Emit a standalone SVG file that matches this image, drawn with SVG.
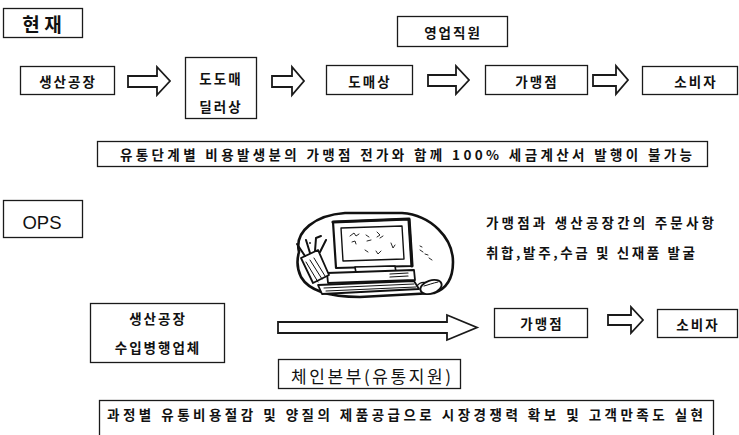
<svg xmlns="http://www.w3.org/2000/svg" width="739" height="435" viewBox="0 0 739 435">
  <style>
    .box { fill: #ffffff; stroke: #1a1a1a; stroke-width: 1.3; }
    .lbl { font-family: "Noto Sans CJK KR", "Noto Sans", sans-serif; font-size: 13.5px; font-weight: bold; fill: #111; text-anchor: middle; dominant-baseline: central; letter-spacing: 2px; }
    .big { font-family: "Noto Sans CJK KR", "Noto Sans", sans-serif; font-size: 17px; font-weight: normal; fill: #111; text-anchor: middle; dominant-baseline: central; }
    .note { font-family: "Noto Sans CJK KR", "Noto Sans", sans-serif; font-size: 13.5px; font-weight: bold; fill: #111; dominant-baseline: central; }
    .arrow { fill: #ffffff; stroke: #1a1a1a; stroke-width: 1.8; stroke-linejoin: miter; }
    .ink { fill: none; stroke: #111; stroke-linecap: round; stroke-linejoin: round; }
    .solid { fill: #ffffff; stroke: #111; stroke-linejoin: round; }
  </style>

  <!-- section heading: current flow -->
  <g id="heading-current">
    <rect class="box" x="3.5" y="8.5" width="79" height="29"/>
    <text class="big" x="42" y="23" style="font-size:19px;font-weight:bold">현 재</text>
  </g>

  <!-- current distribution chain -->
  <g id="factory">
    <rect class="box" x="20.5" y="66.5" width="94" height="28"/>
    <text class="lbl" x="68" y="81">생산공장</text>
  </g>
  <g id="dealer">
    <rect class="box" x="185.5" y="57.5" width="71" height="61"/>
    <text class="lbl" x="221" y="78">도도매</text>
    <text class="lbl" x="221" y="106">딜러상</text>
  </g>
  <g id="wholesaler">
    <rect class="box" x="326.5" y="65.5" width="86" height="29"/>
    <text class="lbl" x="370" y="81">도매상</text>
  </g>
  <g id="sales-staff">
    <rect class="box" x="397.5" y="16.5" width="110" height="30"/>
    <text class="lbl" x="453" y="32">영업직원</text>
  </g>
  <g id="franchise">
    <rect class="box" x="485.5" y="65.5" width="102" height="29"/>
    <text class="lbl" x="537" y="81">가맹점</text>
  </g>
  <g id="consumer">
    <rect class="box" x="642.5" y="66.5" width="95" height="28"/>
    <text class="lbl" x="696" y="81">소비자</text>
  </g>
  <g id="current-note">
    <rect class="box" x="97.5" y="141.5" width="610" height="25"/>
    <text class="note" x="120" y="154" textLength="572" lengthAdjust="spacing">유통단계별 비용발생분의 가맹점 전가와 함께 100% 세금계산서 발행이 불가능</text>
  </g>

  <!-- section heading: OPS flow -->
  <g id="heading-ops">
    <rect class="box" x="3.5" y="200.5" width="79" height="37"/>
    <text x="42" y="222" text-anchor="middle" dominant-baseline="central" font-family="Liberation Sans, Arial, sans-serif" font-size="18.5" fill="#111">OPS</text>
  </g>

  <!-- computer clip art -->
  <g id="computer">
    <path class="solid" stroke-width="2.6" d="M299,252 C294,231 316,215 345,213 L402,213 C431,215 453,238 453,262 C453,279 446,289 434,293 L360,297 C331,297 309,291 301,277 C296,267 297,259 299,252 Z"/>
    <circle cx="310" cy="243" r="0.9" fill="#111"/>
    <path class="ink" stroke-width="0.9" d="M420,250 l3,2 m2,2 l3,1 m1,3 l3,2 m-12,-14 l2,1"/>
    <!-- monitor -->
    <path class="solid" stroke-width="2.2" d="M333,222 L409,219 L412,266 L336,268 Z"/>
    <path class="ink" stroke-width="3.2" d="M333,222 L409,219 L412,266"/>
    <path class="solid" stroke-width="1.4" d="M341,228 L402,226 L404,259 L343,261 Z"/>
    <path class="ink" stroke-width="0.9" d="M350,236 l4,-3 l2,3 l3,-2 m-7,8 l3,-1 l1,3 m10,-9 l3,2 m-2,4 l4,-1 m6,-8 l3,3 l-3,2 m3,1 l3,-2 m-18,14 l3,2 m8,-1 l2,3 l3,-3 m10,-8 l2,5 l2,-3"/>
    <!-- system unit and keyboard -->
    <path class="solid" stroke-width="1.6" d="M355,267 L395,266 L396,272 L356,273 Z"/>
    <path class="solid" stroke-width="1.8" d="M327,273 L414,270 L415,280 L328,283 Z"/>
    <path class="ink" stroke-width="1.2" d="M390,274 L408,273 M390,277 L408,276"/>
    <path class="solid" stroke-width="1.8" d="M318,285 L414,281 L419,289 L322,294 Z"/>
    <path class="ink" stroke-width="1" d="M324,288 L414,284 M326,291 L416,287"/>
    <!-- mouse -->
    <path class="ink" stroke-width="1.4" d="M417,286 C420,282 424,282 427,283"/>
    <ellipse class="solid" stroke-width="1.8" cx="431" cy="287" rx="11" ry="6.5" transform="rotate(-18 431 287)"/>
    <path class="ink" stroke-width="1" d="M424,286 C428,285 433,283 438,282"/>
    <!-- pen holder -->
    <path class="solid" stroke-width="1.8" d="M301,258 L318,250 L329,275 L313,283 Z"/>
    <path class="ink" stroke-width="2" d="M305,256 L297,244 M310,253 L306,240 M315,251 L316,238 L321,236 M320,252 L326,240"/>
    <path class="ink" stroke-width="1" d="M306,262 L318,282 M310,260 L322,279 M314,258 L325,276"/>
  </g>

  <g id="ops-note">
    <text class="note" x="486" y="222" textLength="228" lengthAdjust="spacing">가맹점과 생산공장간의 주문사항</text>
    <text class="note" x="486" y="252" textLength="209" lengthAdjust="spacing">취합,발주,수금 및 신재품 발굴</text>
  </g>

  <!-- OPS distribution chain -->
  <g id="factory-importer">
    <rect class="box" x="90.5" y="303.5" width="134" height="59"/>
    <text class="lbl" x="158" y="318">생산공장</text>
    <text class="lbl" x="158" y="347">수입병행업체</text>
  </g>
  <g id="chain-hq">
    <rect class="box" x="278.5" y="359.5" width="182" height="29"/>
    <text class="big" x="291" y="375" style="text-anchor:start" textLength="160" lengthAdjust="spacing">체인본부(유통지원)</text>
  </g>
  <g id="franchise-ops">
    <rect class="box" x="494.5" y="308.5" width="93" height="29"/>
    <text class="lbl" x="542" y="323">가맹점</text>
  </g>
  <g id="consumer-ops">
    <rect class="box" x="657.5" y="309.5" width="80" height="28"/>
    <text class="lbl" x="698" y="324">소비자</text>
  </g>
  <g id="ops-note-bottom">
    <rect class="box" x="99.5" y="400.5" width="614" height="50"/>
    <text class="note" x="107" y="414" textLength="596" lengthAdjust="spacing">과정별 유통비용절감 및 양질의 제품공급으로 시장경쟁력 확보 및 고객만족도 실현</text>
  </g>

  <!-- block arrows -->
  <g id="connectors">
    <path class="arrow" d="M128,76 H157 V67 L170,81 L157,95 V87 H128 Z"/>
    <path class="arrow" d="M272,76 H292 V67 L304,81 L292,95 V87 H272 Z"/>
    <path class="arrow" d="M428,75 H456 V66 L469,80 L456,94 V86 H428 Z"/>
    <path class="arrow" d="M593,75 H616 V66 L628,80 L616,94 V86 H593 Z"/>
    <path class="arrow" d="M278,322 H447 V315 L477,327.5 L447,340 V333 H278 Z"/>
    <path class="arrow" d="M608,315 H631 V307 L643,320 L631,333 V325 H608 Z"/>
  </g>
</svg>
